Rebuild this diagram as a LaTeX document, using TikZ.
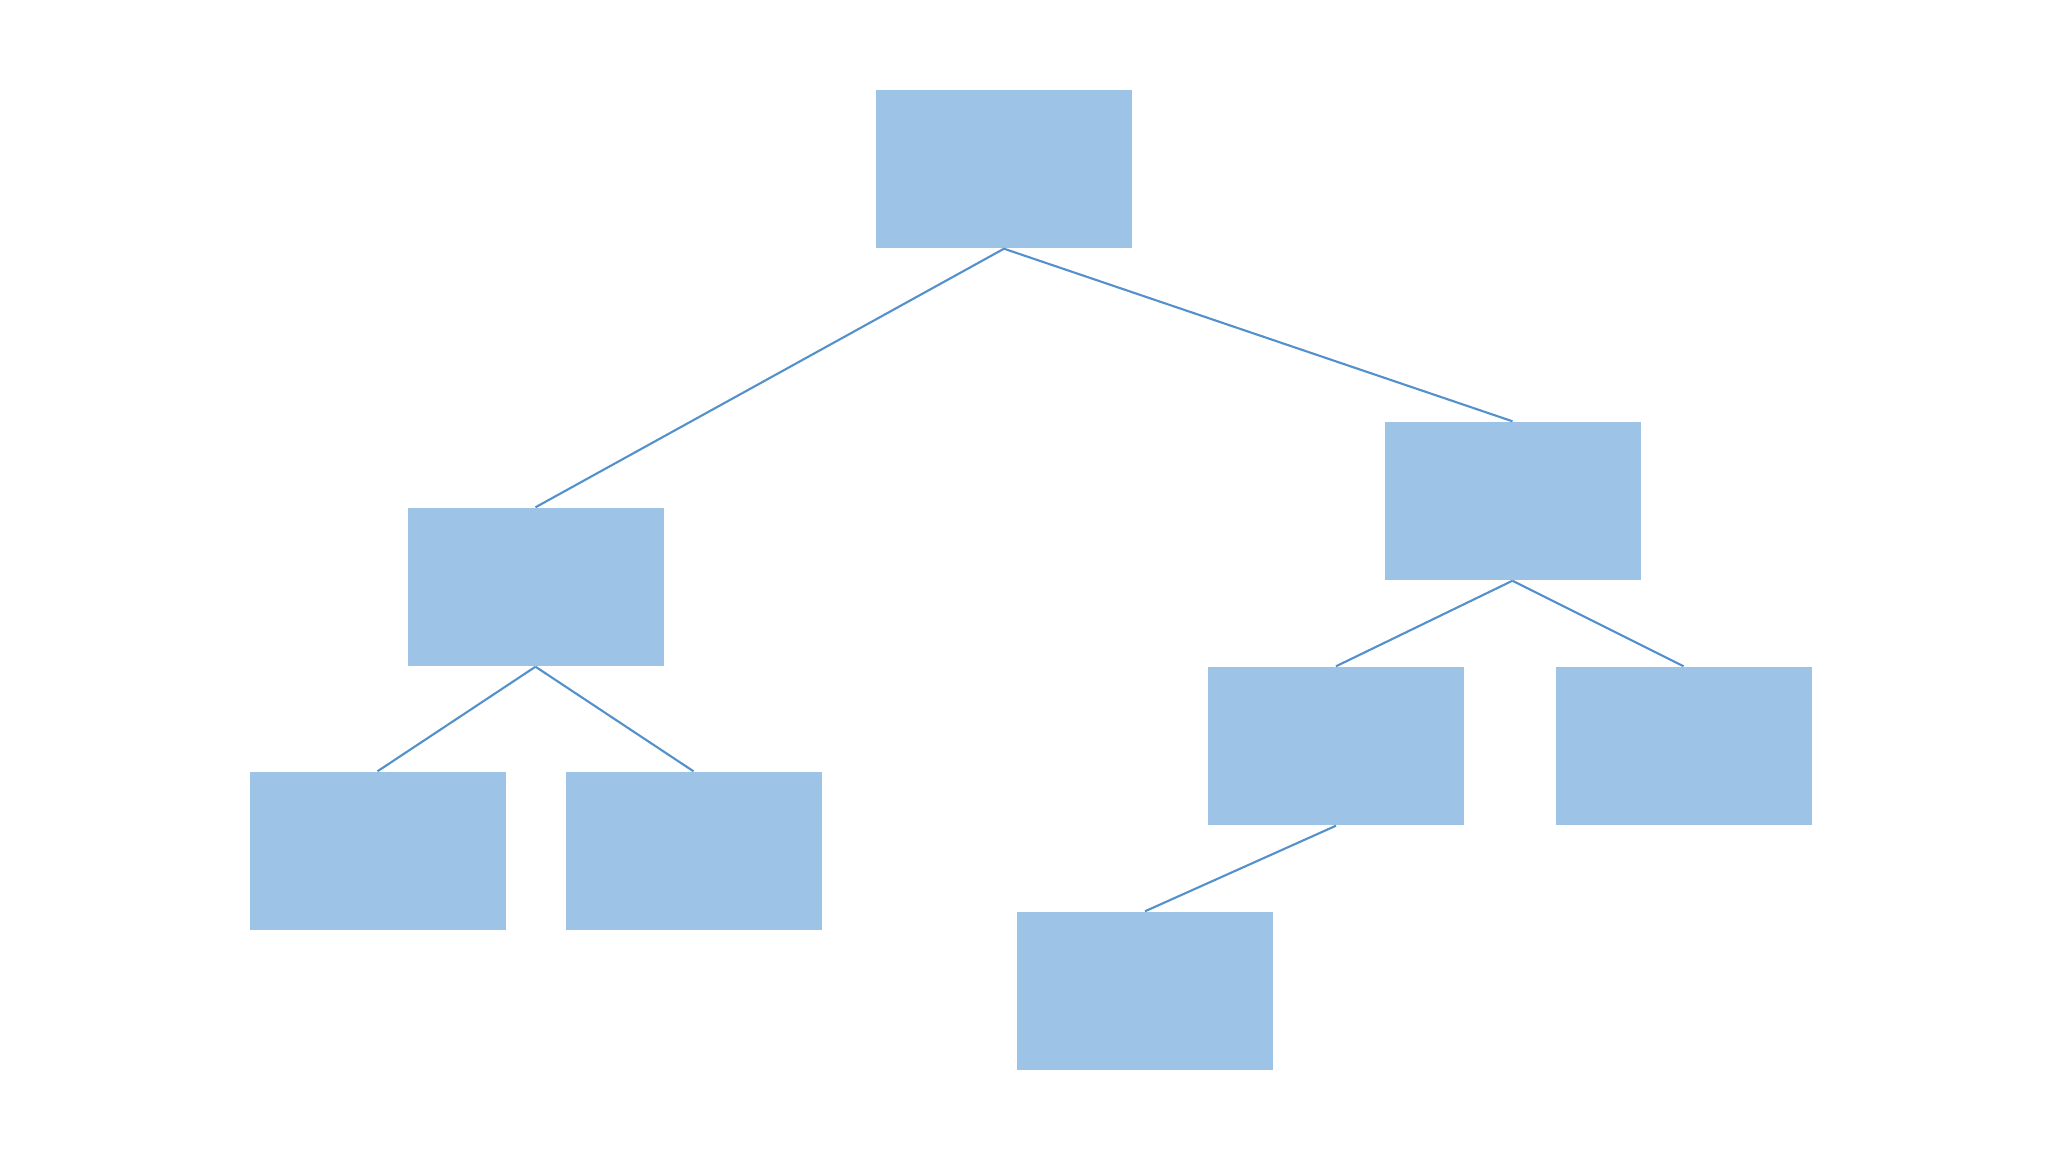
\documentclass[tikz,border=0pt]{standalone}
\usepackage{xcolor}
\usepackage{tikz}
\usetikzlibrary{positioning,calc}

\definecolor{boxblue}{RGB}{157,195,230}
\definecolor{lineblue}{RGB}{84,145,204}

\begin{document}
\begin{tikzpicture}[
    box/.style={rectangle, fill=boxblue, draw=none, inner sep=0pt, minimum width=2.56cm, minimum height=1.58cm},
    link/.style={draw=lineblue, line width=0.6pt}
]
\useasboundingbox[fill=white] (0,0) rectangle (20.48,-11.52);

% Root
\node[box] (root) at (10.04,-1.69) {};

% Second level
\node[box] (left) at (5.355,-5.87) {};
\node[box] (right) at (15.125,-5.01) {};

% Third level
\node[box] (leftleft) at (3.775,-8.51) {};
\node[box] (leftright) at (6.935,-8.51) {};
\node[box] (rightleft) at (13.36,-7.46) {};
\node[box] (rightright) at (16.835,-7.46) {};

% Fourth level
\node[box] (rightleftleft) at (11.45,-9.91) {};

% Links
\draw[link] (root.south) -- (left.north);
\draw[link] (root.south) -- (right.north);
\draw[link] (left.south) -- (leftleft.north);
\draw[link] (left.south) -- (leftright.north);
\draw[link] (right.south) -- (rightleft.north);
\draw[link] (right.south) -- (rightright.north);
\draw[link] (rightleft.south) -- (rightleftleft.north);

\end{tikzpicture}
\end{document}
